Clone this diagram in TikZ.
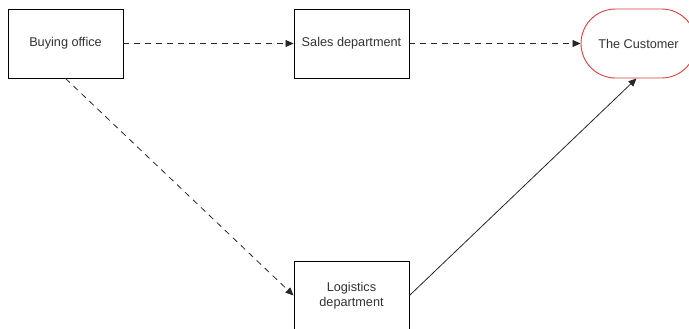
\documentclass[tikz,border=0pt]{standalone}
\usepackage{fontspec}
\setmainfont{Liberation Sans}
\usetikzlibrary{arrows.meta,shapes.misc}
\definecolor{txt}{HTML}{333333}
\definecolor{cred}{HTML}{D94040}
\tikzset{
  box/.style={draw=black, line width=0.9pt, fill=white, minimum width=115pt, minimum height=69pt, inner sep=0pt, text=txt, align=center, font=\fontsize{12.7}{15.5}\selectfont},
  term/.style={box, draw=cred, rounded rectangle, rounded rectangle arc length=180},
  flow/.style={draw=black!85, line width=0.8pt, -{Triangle[length=8pt,width=7pt]}},
  dflow/.style={flow, dash pattern=on 6pt off 5pt}
}
\begin{document}
\begin{tikzpicture}[x=1pt,y=-1pt]
\useasboundingbox (0,0) rectangle (689,329);
\clip (0,0) rectangle (689,329);
\node[box] (buy) at (65.5,43.5) {Buying office};
\node[box] (sales) at (351.5,43.5) {Sales department};
\node[term] (cust) at (638.5,43.5) {The Customer};
\node[box] (log) at (351.5,295.5) {Logistics\\department};
\draw[dflow] (buy) -- (sales);
\draw[dflow] (sales) -- (cust);
\draw[dflow] (buy.south) -- (log.west);
\draw[flow] (log.east) -- ([xshift=-2pt]cust.south);
\end{tikzpicture}
\end{document}
